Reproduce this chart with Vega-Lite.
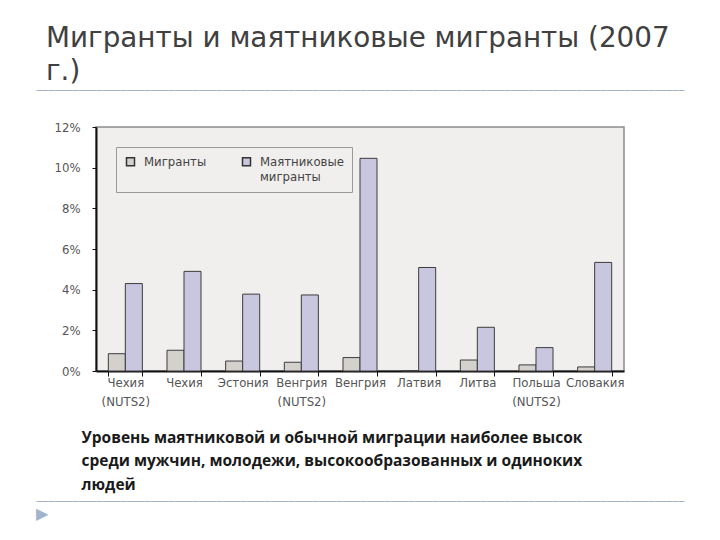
{
  "$schema": "https://vega.github.io/schema/vega-lite/v6.json",
  "background": "white",
  "padding": {"left": 35, "right": 35, "top": 24, "bottom": 5},
  "bounds": "flush",
  "center": true,
  "spacing": 36,
  "resolve": {"legend": {"color": "independent"}, "scale": {"color": "independent"}},
  "config": {"view": {"stroke": null}},
  "vconcat": [
    {
      "width": 648,
      "height": 0.001,
      "title": {
        "text": ["Мигранты и маятниковые мигранты (2007", "г.)"],
        "anchor": "start",
        "frame": "group",
        "dx": 10,
        "fontSize": 27.8,
        "font": "DejaVu Sans",
        "fontWeight": "normal",
        "color": "#404040",
        "lineHeight": 33,
        "offset": 1
      },
      "view": {"stroke": "#a3b3c6", "strokeDash": [4, 2], "strokeWidth": 1, "fill": null},
      "data": {"values": [{}]},
      "mark": {"type": "point", "opacity": 0},
      "encoding": {}
    },
    {
      "width": 528,
      "height": 244,
      "view": {"fill": "#f1efee", "stroke": "#8c8c8c", "strokeWidth": 1.5},
      "data": {
        "values": [
          {"country": "Чехия (NUTS2)", "type": "Мигранты", "value": 0.85},
          {"country": "Чехия (NUTS2)", "type": "Маятниковые мигранты", "value": 4.3},
          {"country": "Чехия", "type": "Мигранты", "value": 1.02},
          {"country": "Чехия", "type": "Маятниковые мигранты", "value": 4.9},
          {"country": "Эстония", "type": "Мигранты", "value": 0.49},
          {"country": "Эстония", "type": "Маятниковые мигранты", "value": 3.78},
          {"country": "Венгрия (NUTS2)", "type": "Мигранты", "value": 0.43},
          {"country": "Венгрия (NUTS2)", "type": "Маятниковые мигранты", "value": 3.74},
          {"country": "Венгрия", "type": "Мигранты", "value": 0.66},
          {"country": "Венгрия", "type": "Маятниковые мигранты", "value": 10.46},
          {"country": "Латвия", "type": "Мигранты", "value": 0},
          {"country": "Латвия", "type": "Маятниковые мигранты", "value": 5.09},
          {"country": "Литва", "type": "Мигранты", "value": 0.54},
          {"country": "Литва", "type": "Маятниковые мигранты", "value": 2.15},
          {"country": "Польша (NUTS2)", "type": "Мигранты", "value": 0.3},
          {"country": "Польша (NUTS2)", "type": "Маятниковые мигранты", "value": 1.15},
          {"country": "Словакия", "type": "Мигранты", "value": 0.2},
          {"country": "Словакия", "type": "Маятниковые мигранты", "value": 5.34}
        ]
      },
      "mark": {"type": "bar", "stroke": "#3c3c3c", "strokeWidth": 1},
      "encoding": {
        "x": {
          "field": "country",
          "type": "nominal",
          "sort": null,
          "scale": {"paddingInner": 0.42, "paddingOuter": 0.21},
          "axis": {
            "title": ["Уровень маятниковой и обычной миграции наиболее высок", "среди мужчин, молодежи, высокообразованных и одиноких", "людей"],
            "titleFont": "Open Sans",
            "titleFontSize": 15.5,
            "titleFontWeight": "bold",
            "titleColor": "#1a1a1a",
            "titleAnchor": "start",
            "titleAlign": "left",
            "titleBaseline": "alphabetic",
            "titleX": -15,
            "titleY": 71,
            "titleLineHeight": 23.5,
            "labelAngle": 0,
            "labelExpr": "split(datum.label, ' ')",
            "labelFont": "DejaVu Sans Condensed",
            "labelFontSize": 13,
            "labelColor": "#555555",
            "labelLineHeight": 19,
            "labelPadding": 0,
            "tickBand": "extent",
            "tickColor": "#111111",
            "tickSize": 5,
            "domainColor": "#111111",
            "domainWidth": 2
          }
        },
        "xOffset": {"field": "type", "type": "nominal", "sort": ["Мигранты", "Маятниковые мигранты"]},
        "y": {
          "field": "value",
          "type": "quantitative",
          "scale": {"domain": [0, 12], "nice": false},
          "axis": {
            "title": null,
            "values": [0, 2, 4, 6, 8, 10, 12],
            "labelExpr": "datum.value + '%'",
            "labelFont": "DejaVu Sans Condensed",
            "labelFontSize": 13,
            "labelColor": "#555555",
            "labelPadding": 12,
            "tickSize": 4,
            "tickColor": "#111111",
            "domainColor": "#111111",
            "domainWidth": 2,
            "grid": false
          }
        },
        "color": {
          "field": "type",
          "type": "nominal",
          "scale": {"domain": ["Мигранты", "Маятниковые мигранты"], "range": ["#d4d1cd", "#c9c7e0"]},
          "legend": {
            "orient": "top-left",
            "offset": 20,
            "direction": "horizontal",
            "columns": 2,
            "title": null,
            "strokeColor": "#999999",
            "fillColor": "#f1efee",
            "padding": 8,
            "symbolType": "square",
            "symbolSize": 64,
            "symbolStrokeColor": "#333333",
            "symbolStrokeWidth": 1.5,
            "symbolOpacity": 1,
            "labelFont": "DejaVu Sans Condensed",
            "labelFontSize": 13,
            "labelColor": "#444444",
            "labelLineHeight": 19,
            "labelExpr": "datum.label == 'Мигранты' ? ['Мигранты', ''] : split(datum.label, ' ')",
            "columnPadding": 32,
            "labelOffset": 7
          }
        }
      }
    },
    {
      "width": 648,
      "height": 58,
      "data": {"values": [{}]},
      "mark": {"type": "point", "opacity": 0},
      "encoding": {}
    },
    {
      "width": 648,
      "height": 0.001,
      "title": {
        "text": "▶",
        "orient": "bottom",
        "anchor": "start",
        "frame": "group",
        "dx": 0,
        "fontSize": 16,
        "font": "DejaVu Sans",
        "fontWeight": "normal",
        "color": "#a0b4cc",
        "offset": 2
      },
      "view": {"stroke": "#a3b3c6", "strokeDash": [4, 2], "strokeWidth": 1, "fill": null},
      "data": {"values": [{}]},
      "mark": {"type": "point", "opacity": 0},
      "encoding": {}
    }
  ]
}
